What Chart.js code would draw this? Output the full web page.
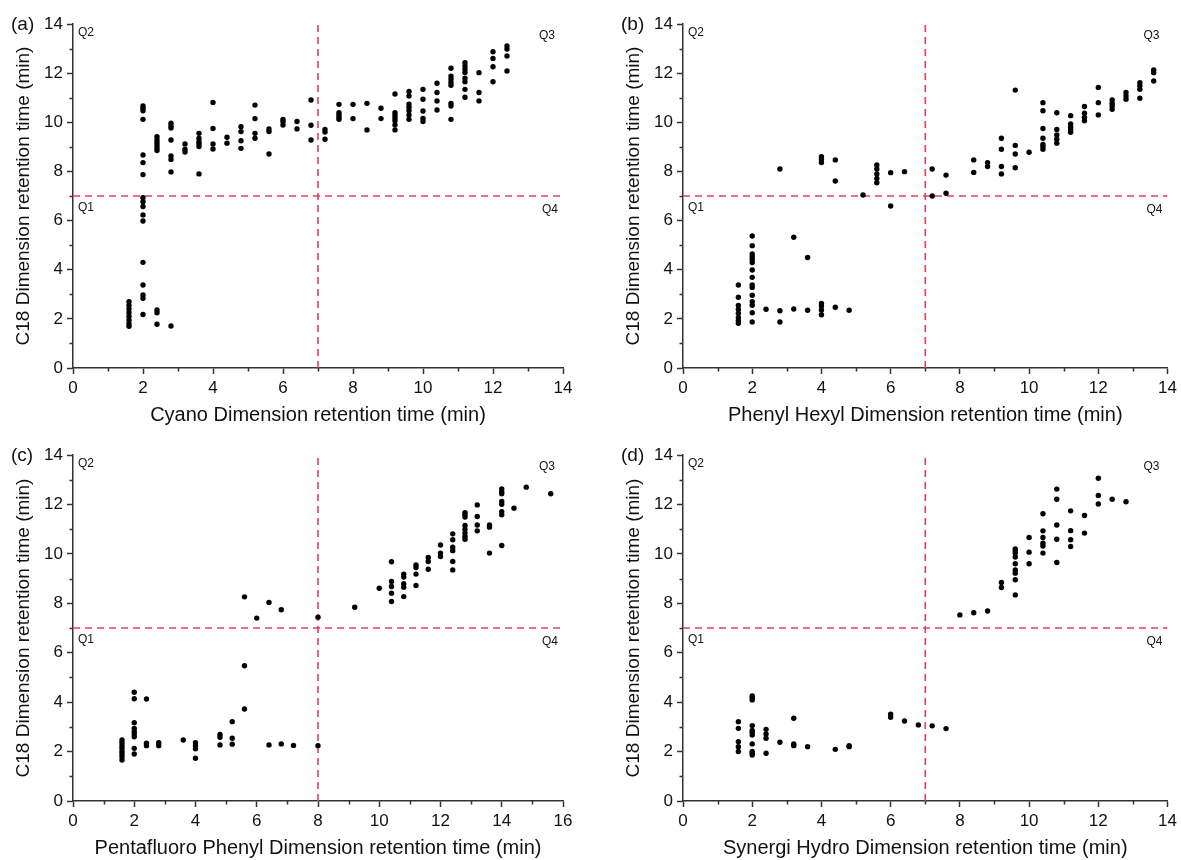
<!DOCTYPE html>
<html>
<head>
<meta charset="utf-8">
<script src="https://cdn.jsdelivr.net/npm/chart.js@4.4.1/dist/chart.umd.min.js"></script>
<style>
  html, body { margin: 0; padding: 0; background: #fff; overflow: hidden; }
  .panel { position: absolute; }
</style>
</head>
<body>
<canvas class="panel" id="pa" width="590" height="430" style="left:0;top:0"></canvas>
<canvas class="panel" id="pb" width="571" height="430" style="left:610px;top:0"></canvas>
<canvas class="panel" id="pc" width="590" height="430" style="left:0;top:430px"></canvas>
<canvas class="panel" id="pd" width="571" height="430" style="left:610px;top:430px"></canvas>
<script>
// Retention times (min): each column x value has a list of C18 retention times.

// (a) Cyano vs C18
const cyanoX = [1.6, 2.0, 2.4, 2.8, 3.2, 3.6, 4.0, 4.4, 4.8, 5.2, 5.6, 6.0, 6.4, 6.8, 7.2, 7.6, 8.0, 8.4, 8.8, 9.2, 9.6, 10.0, 10.4, 10.8, 11.2, 11.6, 12.0, 12.4];
const cyanoC18 = [
  [2.7, 2.55, 2.4, 2.25, 2.1, 1.95, 1.8, 1.7],
  [10.66, 10.57, 10.47, 10.12, 8.67, 8.36, 7.87, 6.93, 6.77, 6.57, 6.23, 5.98, 4.30, 3.38, 2.97, 2.84, 2.18],
  [9.41, 9.28, 9.17, 9.06, 8.95, 8.85, 2.36, 2.25, 1.78],
  [9.96, 9.85, 9.77, 9.28, 8.63, 8.49, 7.98, 1.71],
  [9.12, 8.90, 8.79],
  [9.55, 9.35, 9.21, 9.12, 9.01, 7.90],
  [10.81, 9.75, 9.12, 8.91],
  [9.39, 9.15],
  [9.82, 9.62, 9.25, 8.94],
  [10.70, 10.15, 9.55, 9.35],
  [9.73, 9.62, 8.71],
  [10.12, 10.03, 9.89],
  [10.03, 9.73],
  [10.91, 9.88, 9.28],
  [9.71, 9.60, 9.31],
  [10.73, 10.39, 10.30, 10.20, 10.12],
  [10.73, 10.15],
  [10.77, 9.69],
  [10.57, 10.15],
  [11.15, 10.39, 10.28, 10.17, 10.06, 9.89, 9.69],
  [11.25, 11.07, 10.74, 10.61, 10.47, 10.30, 10.12],
  [11.34, 10.94, 10.46, 10.16, 10.03],
  [11.59, 11.21, 10.87, 10.50],
  [12.20, 11.88, 11.76, 11.63, 11.51, 10.77, 10.66, 10.12],
  [12.43, 12.29, 12.16, 12.03, 11.79, 11.65, 11.34, 11.02],
  [12.02, 11.21, 10.87],
  [12.87, 12.60, 12.26, 11.65],
  [13.11, 12.98, 12.70, 12.09]
];

// (b) Phenyl Hexyl vs C18
const phenylHexylX = [1.6, 2.0, 2.4, 2.8, 3.2, 3.6, 4.0, 4.4, 4.8, 5.2, 5.6, 6.0, 6.4, 7.2, 7.6, 8.4, 8.8, 9.2, 9.6, 10.0, 10.4, 10.8, 11.2, 11.6, 12.0, 12.4, 12.8, 13.2, 13.6];
const phenylHexylC18 = [
  [3.38, 2.88, 2.55, 2.39, 2.23, 2.06, 1.93, 1.82],
  [5.37, 4.98, 4.64, 4.53, 4.42, 4.29, 3.99, 3.69, 3.38, 3.28, 2.96, 2.70, 2.55, 2.25, 1.87],
  [2.39],
  [8.10, 2.33, 1.87],
  [5.32, 2.40],
  [4.50, 2.35],
  [8.60, 8.49, 8.36, 2.63, 2.52, 2.36, 2.17],
  [8.47, 7.61, 2.47],
  [2.35],
  [7.04],
  [8.26, 8.10, 7.90, 7.71, 7.54],
  [7.95, 6.59],
  [7.99],
  [8.10, 7.00],
  [7.85, 7.11],
  [8.47, 7.96],
  [8.36, 8.20],
  [9.35, 8.90, 8.20, 7.90],
  [11.31, 9.06, 8.71, 8.15],
  [8.78],
  [10.80, 10.47, 9.75, 9.35, 9.10, 9.01, 8.90],
  [10.39, 9.71, 9.48, 9.31, 9.15],
  [10.27, 9.93, 9.80, 9.69, 9.59],
  [10.64, 10.37, 10.20, 10.06],
  [11.42, 10.80, 10.30],
  [10.91, 10.77, 10.66, 10.53],
  [11.21, 11.07, 10.94],
  [11.61, 11.48, 11.34, 10.98],
  [12.13, 12.02, 11.68]
];

// (c) Pentafluoro Phenyl vs C18
const pentafluoroX = [1.6, 2.0, 2.4, 2.8, 3.6, 4.0, 4.8, 5.2, 5.6, 6.0, 6.4, 6.8, 7.2, 8.0, 9.2, 10.0, 10.4, 10.8, 11.2, 11.6, 12.0, 12.4, 12.8, 13.2, 13.6, 14.0, 14.4, 14.8, 15.6];
const pentafluoroC18 = [
  [2.47, 2.36, 2.24, 2.13, 2.00, 1.90, 1.79, 1.66],
  [4.40, 4.14, 3.17, 2.94, 2.81, 2.71, 2.60, 2.13, 1.90],
  [4.13, 2.34, 2.24],
  [2.36, 2.24],
  [2.47],
  [2.36, 2.24, 2.11, 1.73],
  [2.69, 2.58, 2.27],
  [3.21, 2.54, 2.30],
  [8.26, 5.47, 3.72],
  [7.40],
  [8.03, 2.27],
  [7.74, 2.31],
  [2.25],
  [7.44, 2.24],
  [7.84],
  [8.61],
  [9.68, 8.88, 8.68, 8.41, 8.07],
  [9.18, 9.06, 8.79, 8.65, 8.27],
  [9.55, 9.45, 9.18, 8.72],
  [9.85, 9.69, 9.38],
  [10.36, 10.03, 9.89],
  [10.81, 10.57, 10.27, 10.13, 9.69, 9.35],
  [11.67, 11.58, 11.49, 11.15, 11.00, 10.84, 10.70, 10.59],
  [11.98, 11.51, 11.17, 10.93],
  [11.17, 11.08, 10.03],
  [12.63, 12.52, 12.43, 12.12, 12.01, 11.71, 11.58, 10.34],
  [11.85],
  [12.70],
  [12.43]
];

// (d) Synergi Hydro vs C18
const synergiX = [1.6, 2.0, 2.4, 2.8, 3.2, 3.6, 4.4, 4.8, 6.0, 6.4, 6.8, 7.2, 7.6, 8.0, 8.4, 8.8, 9.2, 9.6, 10.0, 10.4, 10.8, 11.2, 11.6, 12.0, 12.4, 12.8];
const synergiC18 = [
  [3.21, 2.94, 2.40, 2.20, 2.00],
  [4.25, 4.18, 4.09, 3.05, 2.85, 2.77, 2.67, 2.31, 2.00, 1.93, 1.86],
  [2.90, 2.71, 2.54, 1.93],
  [2.38],
  [3.35, 2.31, 2.24],
  [2.20],
  [2.09],
  [2.24, 2.20],
  [3.51, 3.39],
  [3.24],
  [3.08],
  [3.04],
  [2.93],
  [7.53],
  [7.62],
  [7.69],
  [8.84, 8.64],
  [10.20, 10.12, 10.03, 9.87, 9.60, 9.35, 9.22, 8.95, 8.34],
  [10.66, 10.07, 9.60],
  [11.62, 10.93, 10.66, 10.43, 10.32, 10.03],
  [12.62, 12.21, 11.17, 10.59, 9.65],
  [11.74, 10.94, 10.57, 10.30],
  [11.55, 10.84],
  [13.06, 12.36, 12.02],
  [12.21],
  [12.11]
];

const yTitle = 'C18 Dimension retention time (min)';
const c18Split = 7;

const FONT = '"Liberation Sans", Arial, Helvetica, sans-serif';
const AXIS = '#333333';
const TEXT = '#111111';
const RED = '#e2405e';

// Minor ticks, quadrant labels and the panel letter
const decor = {
  id: 'decor',
  afterDraw(chart, args, opts) {
    const { ctx, chartArea: ca, scales: { x, y } } = chart;
    ctx.save();
    ctx.strokeStyle = AXIS;
    ctx.lineWidth = 1.5;
    ctx.beginPath();
    for (let v = 1; v < x.max; v += 2) {
      const px = Math.round(x.getPixelForValue(v)) + 0.5;
      ctx.moveTo(px, ca.bottom);
      ctx.lineTo(px, ca.bottom + 3.5);
    }
    for (let v = 1; v < y.max; v += 2) {
      const py = Math.round(y.getPixelForValue(v)) + 0.5;
      ctx.moveTo(ca.left - 3.5, py);
      ctx.lineTo(ca.left, py);
    }
    ctx.stroke();

    const mid = y.getPixelForValue(c18Split);
    ctx.fillStyle = TEXT;
    ctx.font = '12px ' + FONT;
    ctx.textBaseline = 'middle';
    ctx.textAlign = 'left';
    ctx.fillText('Q2', ca.left + 5, ca.top + 9);
    ctx.fillText('Q1', ca.left + 5, mid + 12);
    ctx.textAlign = 'right';
    ctx.fillText('Q3', ca.right - 8, ca.top + 12);
    ctx.fillText('Q4', ca.right - 5, mid + 14);

    ctx.font = '19px ' + FONT;
    ctx.textAlign = 'left';
    ctx.fillText(opts.tag, 11, ca.top + 1);
    ctx.restore();
  }
};

function makePanel(id, tag, xs, ys, xMax, xSplit, xTitle, pad, xHeight) {
  const points = xs.flatMap((x, i) => ys[i].map(y => ({ x, y })));
  const tickFont = { family: FONT, size: 17 };
  new Chart(document.getElementById(id), {
    type: 'scatter',
    data: {
      datasets: [
        {
          data: points,
          pointRadius: 2.7,
          pointHoverRadius: 2.7,
          pointBackgroundColor: '#000',
          pointBorderWidth: 0,
          order: 0
        },
        {
          type: 'line',
          data: [{ x: xSplit, y: 0 }, { x: xSplit, y: 14 }],
          borderColor: RED,
          borderWidth: 1.6,
          borderDash: [7, 5],
          pointRadius: 0,
          fill: false,
          order: 1
        },
        {
          type: 'line',
          data: [{ x: 0, y: c18Split }, { x: xMax, y: c18Split }],
          borderColor: RED,
          borderWidth: 1.6,
          borderDash: [7, 5],
          pointRadius: 0,
          fill: false,
          order: 1
        }
      ]
    },
    options: {
      responsive: false,
      animation: false,
      events: [],
      layout: { padding: pad },
      plugins: {
        legend: { display: false },
        tooltip: { enabled: false },
        decor: { tag }
      },
      scales: {
        x: {
          type: 'linear',
          min: 0,
          max: xMax,
          border: { display: true, color: AXIS, width: 1.5 },
          grid: { display: true, drawOnChartArea: false, drawTicks: true, tickLength: 6, tickColor: AXIS, tickWidth: 1.5 },
          ticks: { stepSize: 2, color: TEXT, font: tickFont, padding: 4, maxRotation: 0, autoSkip: false },
          title: { display: true, text: xTitle, color: TEXT, font: { family: FONT, size: 20 }, padding: { top: 0, bottom: 0 } },
          afterFit: s => { s.height = xHeight; }
        },
        y: {
          type: 'linear',
          min: 0,
          max: 14,
          border: { display: true, color: AXIS, width: 1.5 },
          grid: { display: true, drawOnChartArea: false, drawTicks: true, tickLength: 6, tickColor: AXIS, tickWidth: 1.5 },
          ticks: { stepSize: 2, color: TEXT, font: tickFont, padding: 4, autoSkip: false },
          title: { display: true, text: yTitle, color: TEXT, font: { family: FONT, size: 19 }, padding: { top: 12, bottom: 0 } },
          afterFit: s => { s.width = 73; }
        }
      }
    },
    plugins: [decor]
  });
}

makePanel('pa', '(a)', cyanoX, cyanoC18, 14, 7, 'Cyano Dimension retention time (min)',
  { left: 0, top: 24, right: 27, bottom: 2.5 }, 59.5);
makePanel('pb', '(b)', phenylHexylX, phenylHexylC18, 14, 7, 'Phenyl Hexyl Dimension retention time (min)',
  { left: 0, top: 24, right: 8, bottom: 2.5 }, 59.5);
makePanel('pc', '(c)', pentafluoroX, pentafluoroC18, 16, 8, 'Pentafluoro Phenyl Dimension retention time (min)',
  { left: 0, top: 25, right: 27, bottom: 0 }, 59);
makePanel('pd', '(d)', synergiX, synergiC18, 14, 7, 'Synergi Hydro Dimension retention time (min)',
  { left: 0, top: 25, right: 8, bottom: 0 }, 59);
</script>
</body>
</html>
